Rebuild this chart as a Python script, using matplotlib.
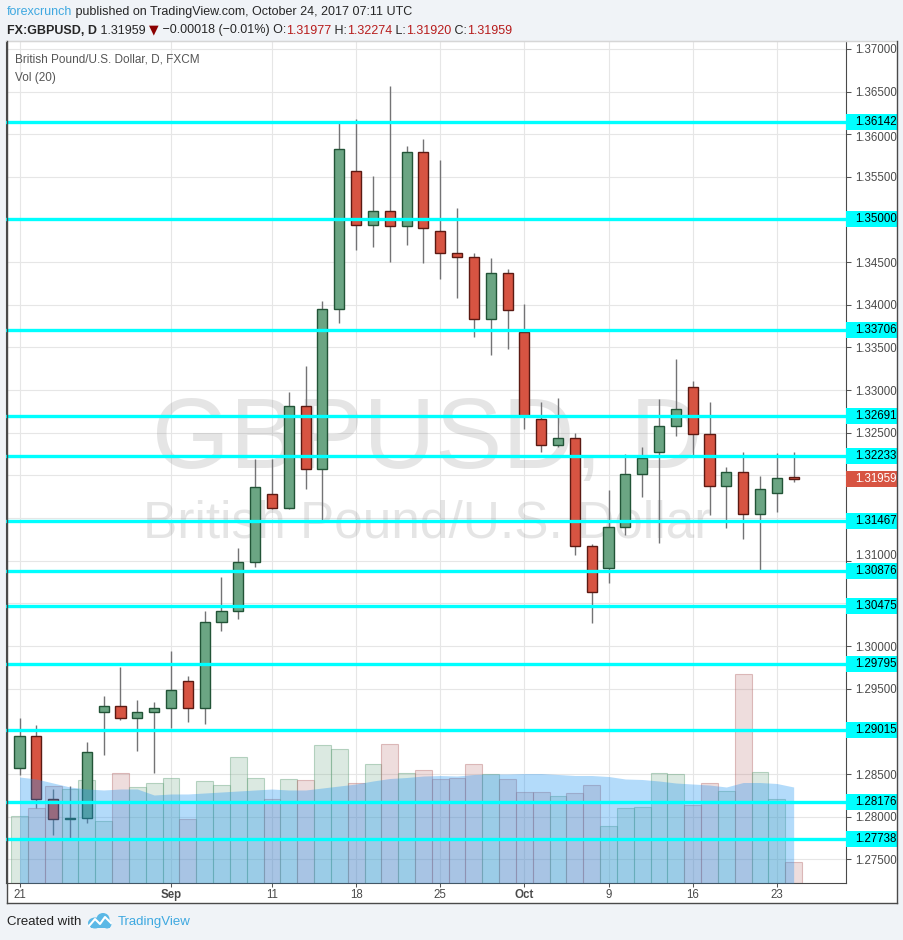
import numpy as np
import pandas as pd
import matplotlib
matplotlib.use('Agg')
import matplotlib.pyplot as plt
from matplotlib import font_manager
from matplotlib.patches import Rectangle, Ellipse
from matplotlib.lines import Line2D
from matplotlib.transforms import Affine2D, blended_transform_factory
from matplotlib.offsetbox import TextArea, HPacker, AnchoredOffsetbox

# GBP/USD daily, FXCM, 21 Aug - 24 Oct 2017
dates = pd.bdate_range('2017-08-21', '2017-10-24')

opens = [1.28571, 1.28946, 1.28208, 1.27975, 1.27985, 1.29227, 1.29298, 1.29157, 1.29227, 1.29274,
         1.29591, 1.29274, 1.30282, 1.30411, 1.30986, 1.31783, 1.31618, 1.32814, 1.32076, 1.33951,
         1.35569, 1.34936, 1.35100, 1.34924, 1.35791, 1.34865, 1.34607, 1.34560, 1.33834, 1.34373,
         1.33681, 1.32662, 1.32357, 1.32439, 1.31173, 1.30915, 1.31396, 1.32020, 1.32280, 1.32580,
         1.33037, 1.32486, 1.31876, 1.32040, 1.31548, 1.31794, 1.31977]
highs = [1.29157, 1.29075, 1.28325, 1.28360, 1.28876, 1.29415, 1.29755, 1.29368, 1.29345, 1.29942,
         1.29649, 1.30411, 1.30810, 1.31150, 1.32193, 1.32193, 1.32978, 1.33283, 1.34045, 1.36155,
         1.36178, 1.35510, 1.36565, 1.35862, 1.35944, 1.35697, 1.35135, 1.34607, 1.34549, 1.34420,
         1.34010, 1.32861, 1.32908, 1.32498, 1.31197, 1.31829, 1.32251, 1.32333, 1.32896, 1.33365,
         1.33107, 1.32861, 1.32099, 1.32275, 1.31994, 1.32263, 1.32274]
lows = [1.28489, 1.28102, 1.27786, 1.27739, 1.27926, 1.28723, 1.29134, 1.28770, 1.28512, 1.29040,
        1.29110, 1.29087, 1.30177, 1.30317, 1.30927, 1.31607, 1.31607, 1.31841, 1.31466, 1.33787,
        1.34643, 1.34678, 1.34502, 1.34701, 1.34490, 1.34303, 1.34080, 1.33623, 1.33412, 1.33482,
        1.32544, 1.32280, 1.32333, 1.31068, 1.30271, 1.30739, 1.31302, 1.31747, 1.31208, 1.32462,
        1.32240, 1.31536, 1.31384, 1.31255, 1.30880, 1.31572, 1.31920]
closes = [1.28946, 1.28208, 1.27973, 1.27980, 1.28758, 1.29298, 1.29157, 1.29227, 1.29274, 1.29485,
          1.29274, 1.30282, 1.30411, 1.30986, 1.31865, 1.31618, 1.32814, 1.32076, 1.33951, 1.35826,
          1.34936, 1.35100, 1.34924, 1.35791, 1.34900, 1.34607, 1.34560, 1.33834, 1.34373, 1.33939,
          1.32697, 1.32357, 1.32439, 1.31173, 1.30634, 1.31396, 1.32020, 1.32205, 1.32580, 1.32779,
          1.32486, 1.31876, 1.32040, 1.31548, 1.31841, 1.31970, 1.31959]

# volume (relative units) and its 20-period average
volume = [67, 75, 97, 94, 103, 62, 110, 96, 100, 105, 64, 102, 98, 126, 105, 84, 104, 103, 138, 134,
          100, 119, 139, 110, 113, 104, 105, 119, 109, 104, 91, 91, 87, 90, 98, 57, 75, 76, 110, 109,
          78, 100, 92, 209, 111, 84, 21]
vol_ma = [106, 104, 100, 96, 94, 93, 94, 94, 88, 89, 89, 90, 91, 92, 93, 94, 93, 93, 95, 97,
          99, 102, 104.5, 105.5, 107, 107.5, 107, 108.5, 109, 109, 109.5, 109.5, 108.5, 107.5, 107.5,
          106.5, 104, 103.5, 102, 100, 99, 98, 96, 100.5, 100.5, 99.5, 96]
VOL_PANE = 842.0

levels = [1.36142, 1.35000, 1.33706, 1.32691, 1.32233, 1.31467, 1.30876, 1.30475,
          1.29795, 1.29015, 1.28176, 1.27738]
last_price = 1.31959

tick_dates = ['2017-08-21', '2017-09-01', '2017-09-11', '2017-09-18', '2017-09-25',
              '2017-10-02', '2017-10-09', '2017-10-16', '2017-10-23']
tick_labels = ['21', 'Sep', '11', '18', '25', 'Oct', '9', '16', '23']
price_ticks = [1.275 + 0.005 * k for k in range(20)]

W, H = 904, 940
names = {f.name for f in font_manager.fontManager.ttflist}
if 'Liberation Sans Narrow' in names:
    narrow, hsize = 'Liberation Sans Narrow', 10
else:
    narrow, hsize = 'Liberation Sans', 9
plt.rcParams['font.family'] = ['Liberation Sans', 'DejaVu Sans']

fig = plt.figure(figsize=(W / 100, H / 100), dpi=100)
fig.patch.set_facecolor('#f0f3f7')
px = Affine2D().scale(1, -1).translate(0, H)  # pixel coords from top-left

# white chart panel + borders
fig.add_artist(Rectangle((6.5, 41), 890.5, 862, transform=px, facecolor='white',
                         edgecolor='none', zorder=-5))
for xs, ys, c in [([6.5, 897], [41, 41], '#d6d6d6'), ([6.5, 6.5], [41, 903], '#4a4a4a'),
                  ([6.5, 897], [903, 903], '#4a4a4a'), ([897, 897], [41, 903], '#4a4a4a')]:
    fig.add_artist(Line2D(xs, ys, transform=px, color=c, lw=1, zorder=5))

ax = fig.add_axes([6.5 / W, 1 - 883 / H, (846 - 6.5) / W, (883 - 41) / H])
ax.set_facecolor('white')
idx = np.arange(len(opens))
o, h, l, c = map(np.array, (opens, highs, lows, closes))
up = c >= o

ymin, ymax = 1.27223, 1.37092
ax.set_xlim(-0.773, 49.11)
ax.set_ylim(ymin, ymax)
p_per_px = (ymax - ymin) / (883 - 41)

ax.grid(True, color='#e6e6e6', lw=0.8)
ax.set_axisbelow(True)

# watermark
ax.text(0.501, 0.4929, 'GBPUSD, D', transform=ax.transAxes, ha='center', va='baseline',
        fontsize=72, color=(0.5, 0.5, 0.5, 0.2), zorder=1)
ax.text(0.501, 0.4109, 'British Pound/U.S. Dollar', transform=ax.transAxes, ha='center',
        va='baseline', fontsize=37, color=(0.5, 0.5, 0.5, 0.2), zorder=1)

# volume bars and MA area (volume pane scaled to axes height)
bt = blended_transform_factory(ax.transData, ax.transAxes)
vol = np.array(volume) / VOL_PANE
vcol = [(0.42, 0.65, 0.51, 0.24) if u else (0.70, 0.40, 0.40, 0.22) for u in up]
vedge = [(0.42, 0.65, 0.51, 0.45) if u else (0.70, 0.40, 0.40, 0.40) for u in up]
ax.bar(idx, vol, bottom=0, width=1.0, color=vcol, edgecolor=vedge, lw=0.8,
       transform=bt, zorder=2)

# candles
ax.vlines(idx, l, h, color='#737375', lw=1, zorder=3)
ax.bar(idx, np.maximum(np.abs(c - o), 0.00003), bottom=np.minimum(o, c), width=0.6,
       color=np.where(up, '#6ba583', '#d75442'), edgecolor=np.where(up, '#225437', '#5b1a13'),
       lw=1, zorder=3.5)

ax.fill_between(idx, 0, np.array(vol_ma) / VOL_PANE, transform=bt,
                color=(33 / 255, 150 / 255, 243 / 255, 0.34), lw=0, zorder=4)

# support / resistance lines with their price boxes
rt = blended_transform_factory(ax.transAxes, ax.transData)
box_w = (897 - 846) / (846 - 6.5)
txt_x = 1 + (855 - 846) / (846 - 6.5)
boxed = levels + [last_price]
for lv in levels:
    ax.axhline(lv, color='#00ffff', lw=2.4, zorder=6)
    ax.add_patch(Rectangle((1.0, lv - 8 * p_per_px), box_w, 16 * p_per_px, transform=rt,
                           facecolor='#00ffff', edgecolor='none', clip_on=False, zorder=10))
    ax.text(txt_x, lv, f'{lv:.5f}', transform=rt, va='center', ha='left', fontsize=8.3,
            color='black', clip_on=False, zorder=11)
ax.add_patch(Rectangle((1.0, last_price - 8 * p_per_px), box_w, 16 * p_per_px, transform=rt,
                       facecolor='#d75442', edgecolor='none', clip_on=False, zorder=10))
ax.text(txt_x, last_price, f'{last_price:.5f}', transform=rt, va='center', ha='left',
        fontsize=8.3, color='white', clip_on=False, zorder=11)

# axes; price labels that collide with a box are hidden or nudged clear of it
ax.yaxis.tick_right()
ax.set_yticks(price_ticks)
ylabels = []
nudged = []
for t in price_ticks:
    gap = min(abs(t - b) for b in boxed) / p_per_px
    if gap < 7:
        ylabels.append('')
    elif gap < 14:
        ylabels.append('')
        near = min(boxed, key=lambda b: abs(t - b))
        nudged.append((t, near + np.sign(t - near) * 15.5 * p_per_px))
    else:
        ylabels.append(f'{t:.5f}')
ax.set_yticklabels(ylabels)
for t, ypos in nudged:
    ax.text(txt_x, ypos, f'{t:.5f}', transform=rt, va='center', ha='left', fontsize=8.3,
            color='#4a4a4a', clip_on=False, zorder=9)

ax.set_xticks(dates.get_indexer(pd.to_datetime(tick_dates)))
ax.set_xticklabels(tick_labels)
for lab in ax.get_xticklabels():
    if lab.get_text().isalpha():
        lab.set_fontweight('bold')
ax.tick_params(axis='y', direction='out', length=3.75, width=0.75, color='#555555',
               labelcolor='#4a4a4a', labelsize=8.3, pad=3)
ax.tick_params(axis='x', direction='out', length=3, width=0.75, color='#555555',
               labelcolor='#4a4a4a', labelsize=8.3, pad=1.5)
for side in ['left', 'right', 'bottom']:
    ax.spines[side].set_color('#4a4a4a')
ax.spines['top'].set_color('#d6d6d6')

ax.text((15 - 6.5) / 839.5, 1 - (60 - 41) / 842, 'British Pound/U.S. Dollar, D, FXCM',
        transform=ax.transAxes, va='center', ha='left', fontsize=hsize - 0.5,
        family=narrow, color='#555555', zorder=12)
ax.text((15 - 6.5) / 839.5, 1 - (78 - 41) / 842, 'Vol (20)', transform=ax.transAxes,
        va='center', ha='left', fontsize=hsize - 0.5, family=narrow, color='#555555', zorder=12)


def text_row(pieces, x, y):
    areas = [TextArea(s, textprops=dict(color=col, fontsize=hsize, fontweight=wt,
                                        family=[fam, 'DejaVu Sans']))
             for s, col, wt, fam in pieces]
    row = HPacker(children=areas, align='baseline', pad=0, sep=0)
    fig.add_artist(AnchoredOffsetbox(loc='center left', child=row, pad=0, borderpad=0,
                                     frameon=False, bbox_to_anchor=(x / W, 1 - y / H),
                                     bbox_transform=fig.transFigure))


red = '#b71c1c'
dark = '#262626'
text_row([('forexcrunch', '#3ea8e0', 'normal', narrow),
          (' published on TradingView.com, October 24, 2017 07:11 UTC', dark, 'normal', narrow)],
         7, 12)
text_row([('FX:GBPUSD, D', dark, 'bold', narrow),
          (' 1.31959 ', dark, 'normal', narrow),
          ('\u25bc', '#8b0000', 'normal', 'DejaVu Sans'),
          (' \u22120.00018 (\u22120.01%) O:', dark, 'normal', narrow),
          ('1.31977', red, 'normal', narrow), (' H:', dark, 'normal', narrow),
          ('1.32274', red, 'normal', narrow), (' L:', dark, 'normal', narrow),
          ('1.31920', red, 'normal', narrow), (' C:', dark, 'normal', narrow),
          ('1.31959', red, 'normal', narrow)], 7, 30)

# footer
fig.text(7 / W, 1 - 922 / H, 'Created with', ha='left', va='center', fontsize=hsize + 0.5,
         family=narrow, color='#222222')
fig.text(118 / W, 1 - 922 / H, 'TradingView', ha='left', va='center', fontsize=hsize + 0.5,
         family=narrow, color='#3ea8e0')
for (cx, cy, ew, eh) in [(95, 923, 14, 11), (103, 919, 13, 12), (107, 924, 9, 9)]:
    fig.add_artist(Ellipse((cx, cy), ew, eh, transform=px, facecolor='#5bb8e6',
                           edgecolor='none', zorder=5))
fig.add_artist(Rectangle((91, 923), 19, 5, transform=px, facecolor='#5bb8e6',
                         edgecolor='none', zorder=5))
fig.add_artist(Line2D([89, 95, 100, 105, 111], [926, 919, 924, 917, 923], transform=px,
                      color='white', lw=1.5, zorder=6))

fig.savefig('out.png', dpi=100, facecolor=fig.get_facecolor())
